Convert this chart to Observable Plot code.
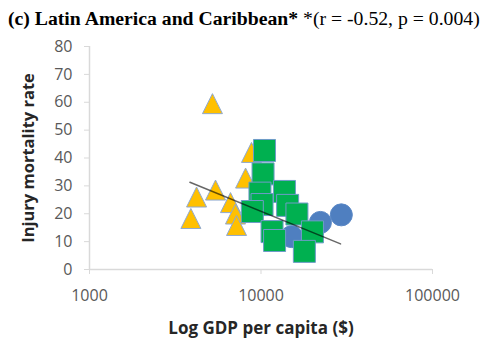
<!DOCTYPE html>
<html>
<head>
<meta charset="utf-8">
<script src="https://cdn.jsdelivr.net/npm/d3@7"></script>
<script src="https://cdn.jsdelivr.net/npm/@observablehq/plot@0.6"></script>
<style>
  html, body { margin: 0; padding: 0; background: #fff; }
  #wrap { width: 486px; height: 338px; overflow: hidden; }
  #title {
    height: 36px; box-sizing: border-box; padding: 10px 0 0 8px;
    font-family: "Liberation Serif", "Times New Roman", serif;
    font-size: 18px; line-height: 1; color: #000; white-space: nowrap;
  }
  #title span { display: inline-block; transform: scaleX(1.095); transform-origin: 0 0; }
  #title b { font-weight: bold; }
  svg { display: block; overflow: visible; }
</style>
</head>
<body>
<div id="wrap">
  <div id="title"><span><b>(c) Latin America and Caribbean*</b> *(r = -0.52, p = 0.004)</span></div>
  <div id="chart"></div>
</div>
<script>
// Lower-middle income countries (triangles)
const lowerGdp  = [5210, 8800, 8130, 5430, 4210, 3900, 6640, 7100, 7200];
const lowerRate = [59.5, 42.0, 32.8, 28.5, 26.0, 18.3, 24.0, 19.9, 15.8];

// High income countries (circles)
const highGdp  = [29400, 22200, 15100];
const highRate = [19.6, 16.9, 11.8];

// Upper-middle income countries (squares)
const upperGdp  = [10480, 10280, 9860, 13700, 10140, 8900, 14300, 16200, 11600, 12000, 19950, 17900];
const upperRate = [42.7, 34.3, 27.4, 28.0, 23.3, 20.8, 23.0, 19.9, 13.6, 10.4, 13.5, 6.5];

// Fitted trend line end points
const trendGdp  = [3850, 29100];
const trendRate = [31.3, 9.2];

// Axis ticks
const xTicks = [1000, 10000, 100000];
const yTicks = [0, 10, 20, 30, 40, 50, 60, 70, 80];

const toRows = (xs, ys) => xs.map((x, i) => ({gdp: x, rate: ys[i]}));
const lower = toRows(lowerGdp, lowerRate);
const high = toRows(highGdp, highRate);
const upper = toRows(upperGdp, upperRate);
const trend = toRows(trendGdp, trendRate);

// Marker shapes sized so that r is the half-width
const squareSym = {
  draw(ctx, size) { const r = Math.sqrt(size / Math.PI); ctx.rect(-r, -r, 2 * r, 2 * r); }
};
const triangleSym = {
  draw(ctx, size) {
    const r = Math.sqrt(size / Math.PI);
    ctx.moveTo(0, -r); ctx.lineTo(r, r); ctx.lineTo(-r, r); ctx.closePath();
  }
};

const axisGray = "#d9d9d9";
const textGray = "#595959";
const sans = "'Open Sans', Lato, sans-serif";

const chart = Plot.plot({
  width: 486,
  height: 302,
  marginLeft: 89,
  marginRight: 54,
  marginTop: 10,
  marginBottom: 69,
  style: {fontFamily: sans, background: "#fff"},
  x: {type: "log", domain: [1000, 100000]},
  y: {domain: [0, 80]},
  marks: [
    Plot.ruleX([1000], {stroke: axisGray, strokeWidth: 1.5}),
    Plot.ruleY([0], {stroke: axisGray, strokeWidth: 1.5}),
    Plot.axisY({ticks: yTicks, tickSize: 5, tickPadding: 12, stroke: axisGray, fill: textGray,
                fontSize: 16, label: null}),
    Plot.axisX({ticks: xTicks, tickFormat: d => String(d), tickSize: 5, tickPadding: 15,
                stroke: axisGray, fill: textGray, fontSize: 16, label: null}),
    Plot.text(["Injury mortality rate"], {frameAnchor: "left", dx: -61, rotate: -90,
              textAnchor: "middle", lineAnchor: "middle",
              fontWeight: "bold", fontSize: 16.5, fill: "#262626"}),
    Plot.text(["Log GDP per capita ($)"], {frameAnchor: "bottom", dy: 59,
              textAnchor: "middle", lineAnchor: "middle",
              fontWeight: "bold", fontSize: 17, fill: "#262626"}),
    Plot.dot(lower, {x: "gdp", y: "rate", symbol: triangleSym, r: 10,
             fill: "#ffc000", stroke: "#8fa9d0", strokeWidth: 1}),
    Plot.dot(high, {x: "gdp", y: "rate", symbol: "circle", r: 11,
             fill: "#4f7fc0", stroke: "#5a88c6", strokeWidth: 1}),
    Plot.dot(upper, {x: "gdp", y: "rate", symbol: squareSym, r: 11,
             fill: "#00b050", stroke: "#6f9bc8", strokeWidth: 1}),
    Plot.line(trend, {x: "gdp", y: "rate", stroke: "#000", strokeOpacity: 0.6, strokeWidth: 1.5})
  ]
});
document.getElementById("chart").appendChild(chart);
</script>
</body>
</html>
